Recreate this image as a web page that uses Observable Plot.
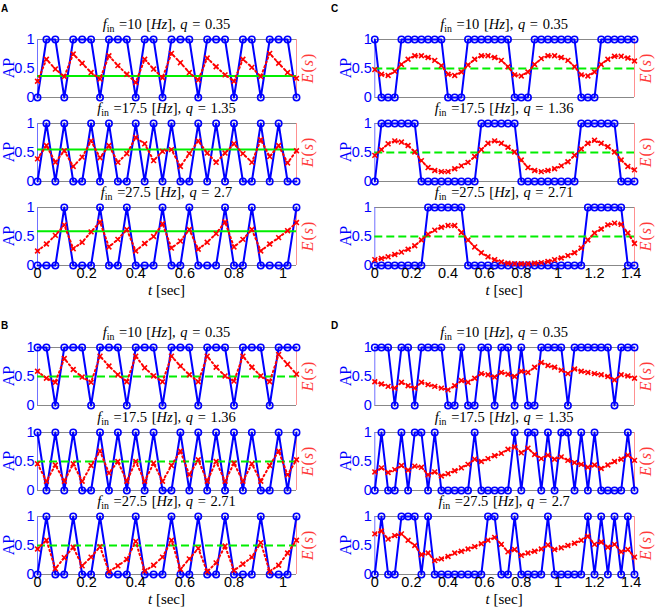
<!DOCTYPE html>
<html><head><meta charset="utf-8">
<script src="https://cdn.jsdelivr.net/npm/d3@7"></script>
<script src="https://cdn.jsdelivr.net/npm/@observablehq/plot@0.6"></script>
<style>
body{margin:0;background:#fff;}
#root{position:relative;width:658px;height:609px;overflow:hidden;background:#fff;font-family:"Liberation Sans",Arial,sans-serif;}
#root svg{position:absolute;overflow:visible;background:transparent;}
.lab{position:absolute;white-space:nowrap;font-family:"Liberation Serif","DejaVu Serif",serif;transform:translate(-50%,-50%);line-height:1;}
.title{font-size:14.5px;color:#000;word-spacing:1px;}
.title sub{font-size:68%;font-style:normal;vertical-align:-3px;}
.ap{font-size:16px;color:#0000ff;transform:translate(-50%,-50%) rotate(-90deg);}
.es{font-size:16px;color:#ff3a3a;font-style:italic;letter-spacing:1px;transform:translate(-50%,-50%) rotate(-90deg);}
.es span{font-style:normal;}
.tsec{font-size:15px;}
.panel{position:absolute;font-family:"Liberation Sans",Arial,sans-serif;font-weight:bold;font-size:10px;}
</style></head>
<body><div id="root"></div>
<script>
// sampling interval of the traces (s)
const dt = 1/27.5;

// Panel A
const A1_ap = [0,1,1,0,1,1,1,0,1,1,1,0,1,1,0,1,1,1,0,1,1,1,0,1,1,0,1,1,1,0];
const A1_es = [0.28,0.66,0.49,0.36,0.75,0.59,0.43,0.32,0.72,0.55,0.40,0.26,0.66,0.49,0.34,0.76,0.60,0.43,0.30,0.68,0.53,0.39,0.28,0.66,0.52,0.36,0.76,0.59,0.43,0.33];
const A2_ap = [0,1,0,1,0,0,1,0,1,0,0,1,0,1,0,1,0,0,1,0,1,0,1,0,0,1,0,1,0,0];
const A2_es = [0.39,0.62,0.33,0.53,0.26,0.42,0.70,0.41,0.62,0.33,0.48,0.76,0.65,0.36,0.52,0.55,0.26,0.48,0.70,0.49,0.33,0.49,0.65,0.48,0.33,0.72,0.43,0.62,0.32,0.53];
const A3_ap = [0,0,0,1,0,0,0,1,0,0,1,0,0,0,1,0,0,1,0,0,0,1,0,0,1,0,0,0,0,1];
const A3_es = [0.25,0.37,0.52,0.70,0.29,0.40,0.58,0.75,0.32,0.45,0.62,0.25,0.38,0.50,0.72,0.30,0.42,0.62,0.28,0.40,0.55,0.75,0.32,0.45,0.62,0.25,0.37,0.48,0.60,0.74];
// Panel B
const B1_ap = [1,1,0,1,1,1,0,1,1,1,0,1,1,1,0,1,1,1,0,1,1,1,0,1,1,1,0,1,1,1];
const B1_es = [0.59,0.47,0.40,0.81,0.62,0.49,0.40,0.85,0.68,0.53,0.41,0.85,0.65,0.51,0.41,0.85,0.68,0.53,0.41,0.85,0.66,0.51,0.42,0.85,0.66,0.51,0.41,0.88,0.71,0.54];
const B2_ap = [1,0,1,0,1,0,0,1,0,1,0,1,0,1,0,0,1,0,1,0,1,0,1,0,1,0,0,1,0,1];
const B2_es = [0.46,0.16,0.44,0.16,0.46,0.16,0.43,0.68,0.30,0.50,0.16,0.50,0.16,0.47,0.16,0.43,0.68,0.27,0.53,0.16,0.50,0.16,0.47,0.16,0.46,0.16,0.43,0.68,0.27,0.53];
const B3_ap = [0,1,0,0,1,0,0,1,0,0,0,1,0,0,0,1,0,0,1,0,0,1,0,0,0,1,0,0,0,1];
const B3_es = [0.44,0.59,0.10,0.29,0.47,0.15,0.30,0.48,0.05,0.15,0.26,0.57,0.06,0.16,0.30,0.59,0.09,0.27,0.45,0.05,0.20,0.49,0.07,0.18,0.30,0.55,0.05,0.16,0.37,0.59];
// Panel C
const C1_ap = [1,0,0,0,1,1,1,1,1,1,1,0,0,0,1,1,1,1,1,1,1,0,0,0,1,1,1,1,1,1,1,0,0,0,1,1,1,1,1,1];
const C1_es = [0.48,0.40,0.38,0.45,0.57,0.66,0.72,0.72,0.69,0.64,0.55,0.40,0.38,0.44,0.56,0.66,0.72,0.72,0.69,0.64,0.53,0.39,0.37,0.44,0.57,0.67,0.72,0.72,0.69,0.64,0.53,0.39,0.37,0.44,0.57,0.66,0.71,0.71,0.68,0.63];
const C2_ap = [0,1,1,1,1,1,1,0,0,0,0,0,0,0,0,0,1,1,1,1,1,1,0,0,0,0,0,0,0,0,0,1,1,1,1,1,1,0,0,0];
const C2_es = [0.45,0.55,0.65,0.70,0.68,0.62,0.51,0.36,0.24,0.19,0.17,0.17,0.22,0.27,0.33,0.43,0.55,0.66,0.70,0.66,0.59,0.51,0.37,0.24,0.19,0.17,0.19,0.22,0.27,0.34,0.45,0.56,0.66,0.71,0.66,0.60,0.51,0.37,0.26,0.20];
const C3_ap = [0,0,0,0,0,0,0,0,1,1,1,1,1,1,0,0,0,0,0,0,0,0,0,0,0,0,0,0,0,0,0,0,1,1,1,1,1,1,0,0];
const C3_es = [0.10,0.12,0.15,0.19,0.23,0.28,0.34,0.44,0.54,0.61,0.66,0.69,0.69,0.57,0.44,0.32,0.22,0.15,0.10,0.06,0.04,0.03,0.03,0.03,0.04,0.05,0.07,0.10,0.13,0.17,0.22,0.30,0.44,0.56,0.63,0.70,0.73,0.71,0.56,0.38];
// Panel D
const D1_ap = [1,1,1,0,1,1,0,1,1,1,1,0,0,1,0,0,1,1,0,1,1,0,1,0,0,1,1,1,1,0,1,1,1,1,1,1,0,1,1,1];
const D1_es = [0.41,0.37,0.33,0.30,0.40,0.34,0.30,0.40,0.36,0.33,0.30,0.27,0.34,0.43,0.40,0.47,0.55,0.53,0.49,0.57,0.54,0.50,0.59,0.57,0.66,0.74,0.69,0.66,0.61,0.55,0.63,0.59,0.57,0.55,0.53,0.50,0.44,0.53,0.51,0.47];
const D2_ap = [0,1,0,0,1,0,1,1,0,1,0,0,0,0,0,1,0,0,0,0,0,1,0,1,1,0,1,0,1,1,0,1,0,1,0,0,0,0,1,0];
const D2_es = [0.32,0.39,0.31,0.36,0.43,0.35,0.42,0.40,0.27,0.32,0.25,0.29,0.34,0.39,0.45,0.54,0.50,0.55,0.60,0.64,0.71,0.75,0.65,0.73,0.62,0.55,0.61,0.54,0.58,0.52,0.48,0.45,0.40,0.44,0.38,0.44,0.50,0.54,0.61,0.52];
const D3_ap = [0,1,0,0,1,1,1,0,1,0,0,0,0,0,0,0,0,1,1,0,0,1,0,0,0,0,1,0,0,0,0,0,1,0,1,0,1,0,1,0];
const D3_es = [0.70,0.75,0.61,0.67,0.70,0.59,0.50,0.34,0.37,0.24,0.27,0.31,0.37,0.40,0.44,0.48,0.53,0.59,0.64,0.52,0.39,0.43,0.33,0.37,0.40,0.44,0.51,0.43,0.46,0.50,0.54,0.59,0.66,0.52,0.56,0.47,0.52,0.39,0.43,0.30];

// threshold (green) levels; null = none
const greenA = [0.37, 0.55, 0.59];
const greenB = [0.5, 0.5, 0.5];
const greenC = [0.5, 0.5, 0.5];

// titles
const finLabels = ["10", "17.5", "27.5"];
const qA = ["0.35", "1.35", "2.7"];
const qB = ["0.35", "1.36", "2.71"];
const qC = ["0.35", "1.36", "2.71"];
const qD = ["0.35", "1.35", "2.7"];

const yTicks = [0, 0.5, 1];
const xTicksAB = [0, 0.2, 0.4, 0.6, 0.8, 1];
const xTicksCD = [0, 0.2, 0.4, 0.6, 0.8, 1, 1.2, 1.4];

const root = document.getElementById("root");

const panels = [
  {name:"A", left:0, width:330, x0:37, x1:296, tops:[38.7,123.3,207.3], ap:[A1_ap,A2_ap,A3_ap], es:[A1_es,A2_es,A3_es], green:greenA, dash:false, q:qA, xt:xTicksAB, lab:[1,3]},
  {name:"B", left:0, width:330, x0:37, x1:296, tops:[346.5,431.5,516], ap:[B1_ap,B2_ap,B3_ap], es:[B1_es,B2_es,B3_es], green:greenB, dash:true, q:qB, xt:xTicksAB, lab:[1,320]},
  {name:"C", left:330, width:328, x0:374.3, x1:634, tops:[38.7,123.3,207.3], ap:[C1_ap,C2_ap,C3_ap], es:[C1_es,C2_es,C3_es], green:greenC, dash:true, q:qC, xt:xTicksCD, lab:[331,3]},
  {name:"D", left:330, width:328, x0:374.3, x1:634, tops:[346.5,431.5,516], ap:[D1_ap,D2_ap,D3_ap], es:[D1_es,D2_es,D3_es], green:[null,null,null], dash:false, q:qD, xt:xTicksCD, lab:[331,320]}
];

function addLabel(cls, html, x, y) {
  const d = document.createElement("div");
  d.className = "lab " + cls;
  d.innerHTML = html;
  d.style.left = x + "px";
  d.style.top = y + "px";
  root.appendChild(d);
}

const H = 58;
for (const p of panels) {
  const pl = document.createElement("div");
  pl.className = "panel";
  pl.textContent = p.name;
  pl.style.left = p.lab[0] + "px";
  pl.style.top = p.lab[1] + "px";
  root.appendChild(pl);
  for (let s = 0; s < 3; s++) {
    const ap = p.ap[s], es = p.es[s];
    const tmax = (ap.length - 1) * dt;
    const apData = ap.map((v, i) => ({t: i * dt, v}));
    const esData = es.map((v, i) => ({t: i * dt, v}));
    const bottom = s === 2;
    const mt = 8, mb = bottom ? 22 : 8;
    const ml = p.x0 - p.left, mr = p.left + p.width - p.x1;
    const marks = [
      Plot.ruleY([0, 1], {stroke: "#888", strokeWidth: 1}),
      Plot.ruleX([0], {stroke: "#7070ff", strokeWidth: 1}),
      Plot.ruleX([tmax], {stroke: "#ff9090", strokeWidth: 1}),
      Plot.line(apData, {x: "t", y: "v", stroke: "#0000ff", strokeWidth: 2}),
      Plot.dot(apData, {x: "t", y: "v", r: 3.2, stroke: "#0000ff", strokeWidth: 1.6, fill: "none"})
    ];
    if (p.green[s] != null) {
      marks.push(Plot.ruleY([p.green[s]], {stroke: "#00ee00", strokeWidth: 2, strokeDasharray: p.dash ? "8,4" : null}));
    }
    marks.push(Plot.line(esData, {x: "t", y: "v", stroke: "#ff0000", strokeWidth: 2, strokeDasharray: "1.5,3"}));
    marks.push(Plot.dot(esData, {x: "t", y: "v", symbol: "times", r: 2.3, stroke: "#ff0000", strokeWidth: 1.6}));
    marks.push(Plot.text(yTicks, {x: () => 0, y: d => d, text: d => String(d), dx: -3, textAnchor: "end", fill: "#0000ff", fontSize: 14.5, fontFamily: "Liberation Sans, Arial, sans-serif"}));
    if (bottom) {
      marks.push(Plot.text(p.xt, {x: d => d, y: () => 0, text: d => String(d), dy: 2, lineAnchor: "top", fill: "#000", fontSize: 14.5, fontFamily: "Liberation Sans, Arial, sans-serif"}));
    }
    const svg = Plot.plot({
      width: p.width, height: mt + H + mb,
      marginLeft: ml, marginRight: mr, marginTop: mt, marginBottom: mb,
      x: {domain: [0, tmax], axis: null},
      y: {domain: [0, 1], axis: null},
      style: {background: "transparent", overflow: "visible"},
      marks
    });
    svg.style.left = p.left + "px";
    svg.style.top = (p.tops[s] - mt) + "px";
    root.appendChild(svg);
    const cx = (p.x0 + p.x1) / 2;
    addLabel("title", `<i>f</i><sub>in</sub> =${finLabels[s]} [<i>Hz</i>], <i>q</i> = ${p.q[s]}`, cx, p.tops[s] - 14);
    addLabel("ap", "AP", p.x0 - 28, p.tops[s] + H / 2);
    addLabel("es", "E<span>(</span>s<span>)</span>", p.x1 + 12, p.tops[s] + H / 2);
    if (bottom) addLabel("tsec", "<i>t</i> [sec]", cx, p.tops[s] + H + 24.5);
  }
}
</script>
</body></html>
